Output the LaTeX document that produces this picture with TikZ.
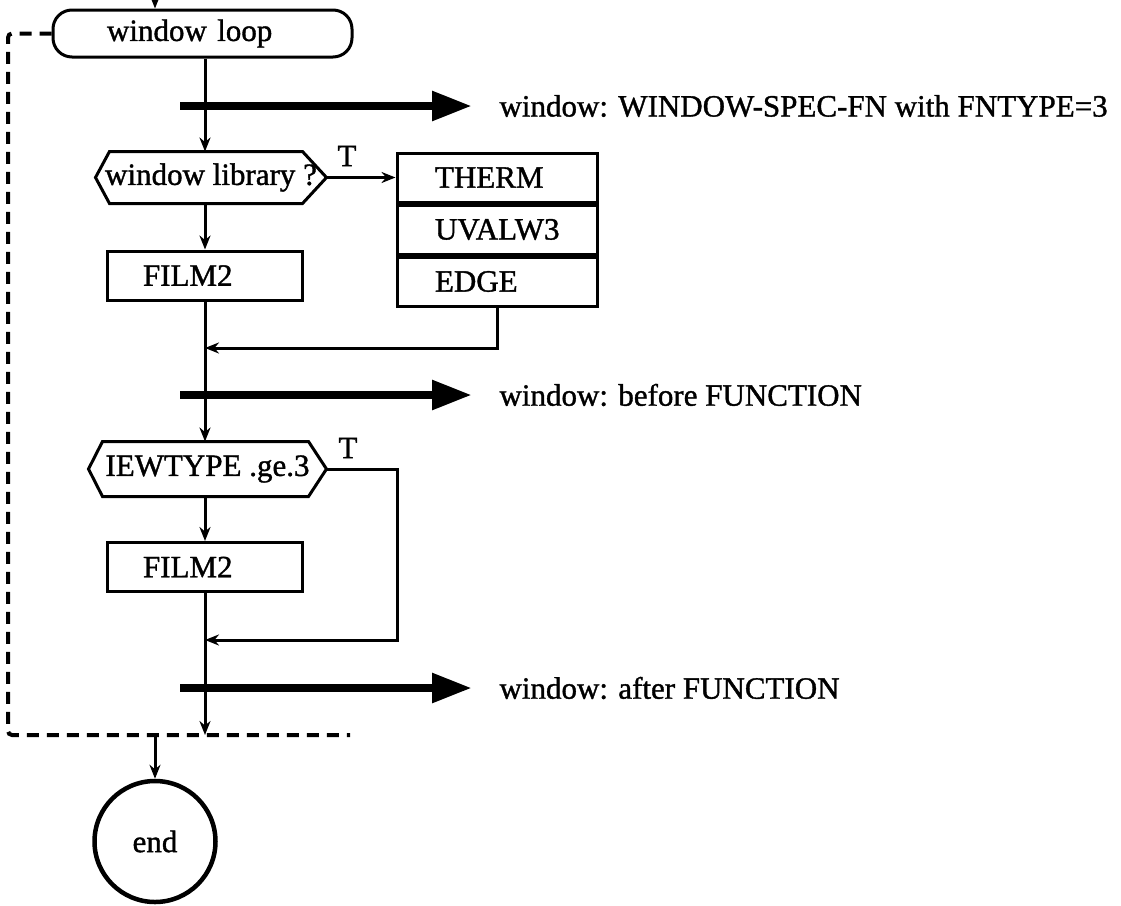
\documentclass[tikz,border=0pt]{standalone}
\usepackage{fontspec}
\setmainfont{Liberation Serif}[BoldFont=Liberation Serif,BoldFeatures={FakeBold=1.2}]
\usetikzlibrary{arrows.meta}
\begin{document}
\begin{tikzpicture}[x=1pt,y=-1pt,line width=3pt,
  font=\fontsize{31}{33}\selectfont\bfseries,
  arr/.style={-{Stealth[length=14pt,width=11pt]}},
  bigarr/.style={line width=8.5pt,-{Triangle[length=40pt,width=28pt]}},
  loopline/.style={dash pattern=on 12pt off 8pt,line width=4pt,rounded corners=4pt},
  boxn/.style={draw,rectangle,minimum height=49pt,inner ysep=0pt,inner xsep=36pt,text width=123pt,align=left},
  stackn/.style={draw,rectangle,minimum height=49pt,inner ysep=0pt,inner xsep=38pt,text width=124pt,align=left},
  hexn/.style={rectangle,inner sep=0pt},
  lab/.style={anchor=west,inner ysep=0pt,inner xsep=0pt},
  tlab/.style={inner sep=0pt}]
\useasboundingbox (0,0) rectangle (1121,905);

% nodes
\node[draw,rounded corners=19pt,minimum height=47pt,inner ysep=0pt,inner xsep=54pt,text width=191pt,align=left] (loop) at (202.5,33.5) {window loop};
\node[hexn,minimum width=228pt,minimum height=49pt] (h1) at (211,177.5) {window library ?};
\node[boxn] (f1) at (204.5,275.5) {FILM2};
\node[stackn] (th) at (497,177.5) {THERM};
\node[stackn,anchor=north] (uv) at (th.south) {\mbox{UVALW3}};
\node[stackn,anchor=north] (ed) at (uv.south) {EDGE};
\node[hexn,minimum width=235pt,minimum height=52pt] (h2) at (207.5,469) {IEWTYPE .ge.3};
\node[boxn] (f2) at (204.5,567) {FILM2};
\node[draw,circle,line width=4.5pt,minimum size=121pt,inner sep=0pt] (endc) at (155,841.5) {end};

\node[tlab] (t1) at (347,156) {T};
\node[tlab] (t2) at (348,448) {T};

\coordinate (a1) at (180,106);
\coordinate (a2) at (180,395);
\coordinate (a3) at (180,688);
\node[lab] (l1) at (472,106) {\hspace{26pt}window: WINDOW-SPEC-FN with FNTYPE=3};
\node[lab] (l2) at (472,395) {\hspace{26pt}window: before FUNCTION};
\node[lab] (l3) at (472,688) {\hspace{26pt}window: after FUNCTION};

% hexagon outlines
\draw (h1.west) -- ([xshift=14pt]h1.north west) -- ([xshift=-24pt]h1.north east) -- (h1.east)
  -- ([xshift=-24pt]h1.south east) -- ([xshift=14pt]h1.south west) -- cycle;
\draw (h2.west) -- ([xshift=14pt]h2.north west) -- ([xshift=-18pt]h2.north east) -- (h2.east)
  -- ([xshift=-18pt]h2.south east) -- ([xshift=14pt]h2.south west) -- cycle;

% coordinates
\coordinate (tin) at (155,0);
\coordinate (m1) at (205,348);
\coordinate (m2) at (205,640);
\coordinate (bx) at (397,0);
\coordinate (dl) at (8,735);
\coordinate (dr) at (350,735);
\coordinate (bot) at (205,735);
\coordinate (eo) at (155,735);

% loop back dashed line
\draw[loopline] (loop.west) -- (loop.west -| dl) -- (dl) -- (dr);

% main flow
\draw[arr] (tin) -- (tin |- loop.north);
\draw[arr] (loop.south -| bot) -- (bot |- h1.north);
\draw[arr] (bot |- h1.south) -- (bot |- f1.north);
\draw[arr] (bot |- f1.south) -- (bot |- h2.north);
\draw[arr] (bot |- h2.south) -- (bot |- f2.north);
\draw[arr] (bot |- f2.south) -- (bot);

% branches
\draw[arr] (h1.east) -- (h1.east -| th.west);
\draw[arr] (ed.south) -- (m1 -| ed.south) -- (m1);
\draw[arr] (h2.east) -- (h2.east -| bx) -- (m2 -| bx) -- (m2);

% thick arrows
\draw[bigarr] (a1) -- (l1.west);
\draw[bigarr] (a2) -- (l2.west);
\draw[bigarr] (a3) -- (l3.west);

% to end
\draw[arr] (eo) -- (endc.north);
\end{tikzpicture}
\end{document}
